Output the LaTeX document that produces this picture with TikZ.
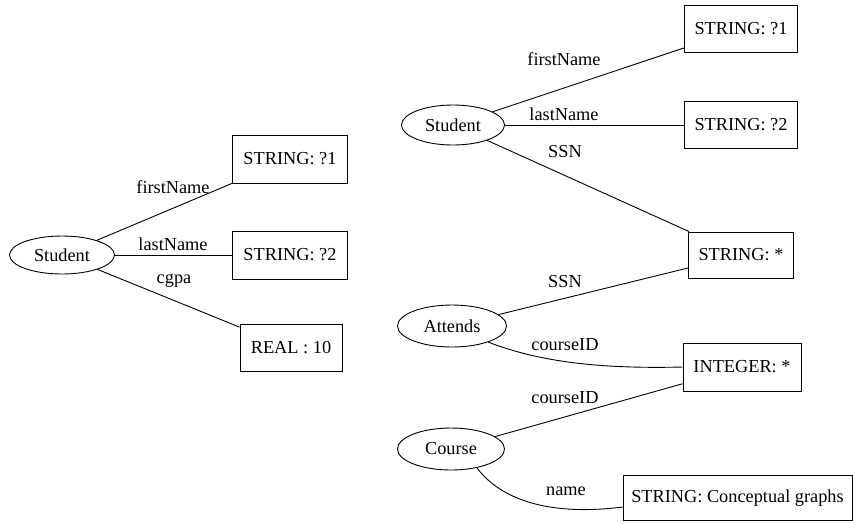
\documentclass[tikz,border=0pt]{standalone}
\usepackage{fontspec}
\setmainfont{Liberation Serif}
\newfontfamily\tmsfont{Liberation Serif}
\usetikzlibrary{shapes.geometric}
\begin{document}
\begin{tikzpicture}[x=1pt,y=-1pt,font=\tmsfont\fontsize{18.3}{20}\selectfont,
  rel/.style={ellipse,draw,line width=0.9pt,inner sep=0pt},
  con/.style={rectangle,draw,line width=0.9pt,inner sep=0pt},
  lbl/.style={anchor=base,inner sep=0pt},
  edge/.style={line width=0.9pt}]
\path[use as bounding box] (0,0) rectangle (853,523);
% left graph
\node[rel,minimum width=105pt,minimum height=38pt] (ls) at (62,255) {Student};
\node[con,minimum width=115pt,minimum height=48pt] (l1) at (290,159) {STRING: ?1};
\node[con,minimum width=115pt,minimum height=48pt] (l2) at (290,255) {STRING: ?2};
\node[con,minimum width=102pt,minimum height=47pt] (l3) at (291,348) {REAL : 10};
\draw[edge] (ls) -- (l1);
\draw[edge] (ls) -- (l2);
\draw[edge] (ls) -- (l3);
\node[lbl] (lf) at (173,193) {firstName};
\node[lbl] (ll) at (173,250) {lastName};
\node[lbl] (lc) at (174,283) {cgpa};
% right graph
\node[rel,minimum width=103pt,minimum height=40pt] (rs) at (453,125) {Student};
\node[con,minimum width=113pt,minimum height=47pt] (r1) at (741,29) {STRING: ?1};
\node[con,minimum width=113pt,minimum height=47pt] (r2) at (741,125) {STRING: ?2};
\node[con,minimum width=105pt,minimum height=46pt] (r3) at (741,255) {STRING: *};
\node[rel,minimum width=109pt,minimum height=42pt] (at) at (452,326) {Attends};
\node[con,minimum width=118pt,minimum height=48pt] (r4) at (742,367) {INTEGER: *};
\node[rel,minimum width=107pt,minimum height=42pt] (co) at (451,449) {Course};
\node[con,minimum width=229pt,minimum height=45pt] (r5) at (737.5,498) {STRING: Conceptual graphs};
\draw[edge] (rs) -- (r1);
\draw[edge] (rs) -- (r2);
\draw[edge] (rs) -- (r3);
\draw[edge] (at) -- (r3);
\draw[edge] (at.-24) .. controls (540,362) and (600,369) .. (r4.west);
\draw[edge] (co) -- (r4);
\draw[edge] (co.-36) .. controls (505,505) and (560,515) .. ([yshift=-9pt]r5.west);
\node[lbl] (rf) at (564,65) {firstName};
\node[lbl] (rl) at (564,120) {lastName};
\node[lbl] (rsn1) at (565,157) {SSN};
\node[lbl] (rsn2) at (565,287) {SSN};
\node[lbl] (rc1) at (565,350) {courseID};
\node[lbl] (rc2) at (565,403) {courseID};
\node[lbl] (rn) at (566,495) {name};
\end{tikzpicture}
\end{document}
